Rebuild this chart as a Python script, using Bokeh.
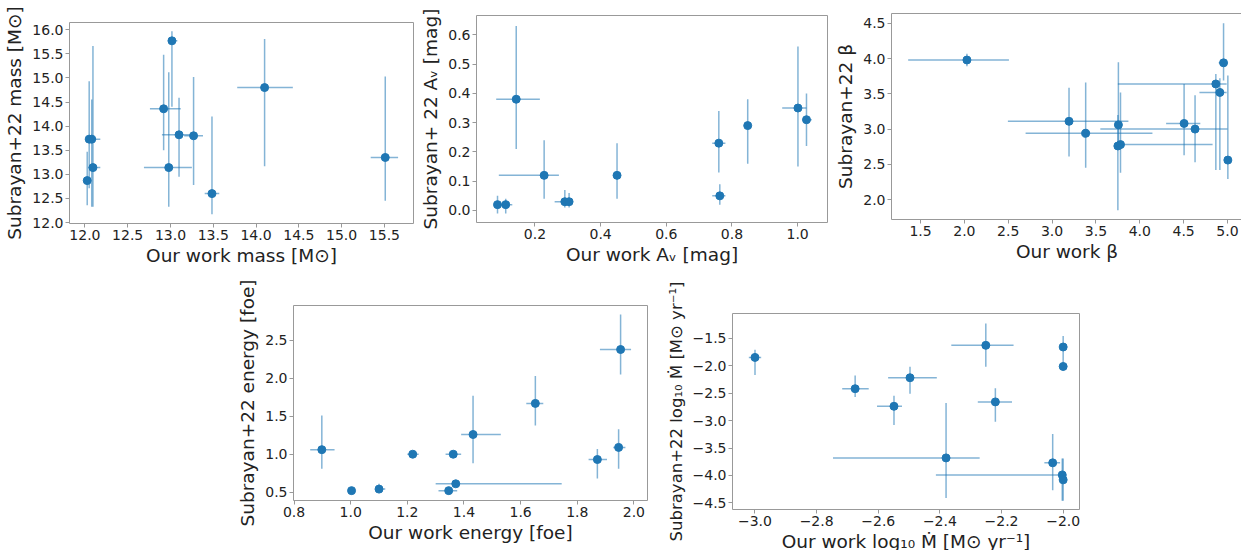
from bokeh.plotting import figure
from bokeh.layouts import column, row
from bokeh.models import ColumnDataSource, FixedTicker, Spacer, Range1d
from bokeh.embed import file_html
from bokeh.resources import INLINE

# --- progenitor mass [Msun] ---
mass_ours = [12.027, 12.05, 12.08, 12.094, 12.92, 12.98, 13.017, 13.10, 13.27, 13.485, 14.10, 15.51]
mass_ours_lo = [12.027, 12.05, 12.04, 12.04, 12.76, 12.69, 12.98, 12.90, 13.16, 13.40, 13.78, 15.34]
mass_ours_hi = [12.027, 12.05, 12.18, 12.18, 13.12, 13.25, 13.08, 13.26, 13.38, 13.57, 14.43, 15.66]
mass_sub = [12.87, 13.73, 13.73, 13.14, 14.36, 13.14, 15.77, 13.82, 13.80, 12.60, 14.80, 13.35]
mass_sub_lo = [12.36, 12.71, 12.33, 12.33, 13.50, 12.33, 14.40, 12.95, 12.78, 12.17, 13.17, 12.45]
mass_sub_hi = [13.47, 14.93, 14.55, 15.66, 15.48, 15.12, 15.97, 14.59, 15.02, 14.20, 15.81, 15.03]

# --- extinction A_V [mag] ---
av_ours = [0.086, 0.111, 0.143, 0.228, 0.291, 0.304, 0.45, 0.760, 0.763, 0.848, 1.001, 1.027]
av_ours_lo = [0.086, 0.093, 0.082, 0.090, 0.26, 0.304, 0.44, 0.74, 0.74, 0.848, 0.953, 1.015]
av_ours_hi = [0.086, 0.131, 0.215, 0.273, 0.31, 0.304, 0.46, 0.78, 0.78, 0.848, 1.027, 1.043]
av_sub = [0.02, 0.02, 0.38, 0.12, 0.03, 0.03, 0.12, 0.23, 0.05, 0.29, 0.35, 0.31]
av_sub_lo = [-0.01, -0.01, 0.21, 0.04, 0.01, 0.01, 0.04, 0.13, 0.02, 0.16, 0.15, 0.22]
av_sub_hi = [0.05, 0.04, 0.63, 0.24, 0.07, 0.06, 0.23, 0.34, 0.09, 0.38, 0.56, 0.40]

# --- wind acceleration beta ---
beta_ours = [2.029, 3.193, 3.383, 3.756, 3.75, 3.78, 4.505, 4.63, 4.867, 4.913, 4.955, 5.004]
beta_ours_lo = [1.359, 2.496, 2.698, 3.756, 3.75, 3.78, 4.30, 3.55, 3.75, 4.68, 4.90, 5.004]
beta_ours_hi = [2.508, 3.870, 4.144, 3.756, 3.75, 4.83, 4.69, 5.00, 4.99, 4.99, 5.00, 5.004]
beta_sub = [3.98, 3.11, 2.94, 3.06, 2.76, 2.78, 3.08, 3.00, 3.64, 3.52, 3.94, 2.56]
beta_sub_lo = [3.89, 2.61, 2.45, 2.75, 1.85, 2.38, 2.63, 2.53, 2.42, 2.42, 3.69, 2.29]
beta_sub_hi = [4.07, 3.585, 3.66, 3.95, 3.20, 3.52, 3.64, 3.48, 3.78, 3.72, 4.50, 3.76]

# --- explosion energy [foe] ---
en_ours = [0.898, 1.003, 1.10, 1.219, 1.362, 1.346, 1.371, 1.432, 1.652, 1.871, 1.946, 1.953]
en_ours_lo = [0.857, 1.003, 1.087, 1.20, 1.335, 1.31, 1.30, 1.39, 1.62, 1.84, 1.927, 1.88]
en_ours_hi = [0.943, 1.003, 1.122, 1.24, 1.39, 1.376, 1.745, 1.53, 1.68, 1.905, 1.97, 1.99]
en_sub = [1.06, 0.52, 0.54, 1.0, 1.0, 0.52, 0.61, 1.26, 1.67, 0.93, 1.09, 2.38]
en_sub_lo = [0.81, 0.52, 0.50, 0.97, 0.98, 0.50, 0.57, 0.88, 1.38, 0.68, 0.81, 2.05]
en_sub_hi = [1.51, 0.52, 0.61, 1.03, 1.02, 0.54, 0.65, 1.77, 2.03, 1.07, 1.33, 2.84]

# --- mass-loss rate log10 Mdot [Msun/yr] ---
mdot_ours = [-3.00, -2.675, -2.549, -2.497, -2.380, -2.251, -2.220, -2.0, -2.0, -2.034, -2.003, -2.0]
mdot_ours_lo = [-3.02, -2.717, -2.604, -2.568, -2.747, -2.363, -2.277, -2.0, -2.0, -2.061, -2.413, -2.0]
mdot_ours_hi = [-2.98, -2.631, -2.523, -2.41, -2.271, -2.161, -2.166, -2.0, -2.0, -2.01, -2.0, -2.0]
mdot_sub = [-1.85, -2.42, -2.74, -2.22, -3.68, -1.63, -2.66, -1.66, -2.015, -3.77, -3.99, -4.08]
mdot_sub_lo = [-2.17, -2.57, -3.08, -2.51, -4.41, -2.02, -3.02, -1.91, -2.09, -4.27, -4.46, -4.46]
mdot_sub_hi = [-1.71, -2.18, -2.55, -2.02, -2.68, -1.23, -2.41, -1.46, -1.91, -3.245, -3.69, -3.69]

mass_xticks = [12.0, 12.5, 13.0, 13.5, 14.0, 14.5, 15.0, 15.5]
mass_yticks = [12.0, 12.5, 13.0, 13.5, 14.0, 14.5, 15.0, 15.5, 16.0]
av_xticks = [0.2, 0.4, 0.6, 0.8, 1.0]
av_yticks = [0.0, 0.1, 0.2, 0.3, 0.4, 0.5, 0.6]
beta_xticks = [1.5, 2.0, 2.5, 3.0, 3.5, 4.0, 4.5, 5.0]
beta_yticks = [2.0, 2.5, 3.0, 3.5, 4.0, 4.5]
en_xticks = [0.8, 1.0, 1.2, 1.4, 1.6, 1.8, 2.0]
en_yticks = [0.5, 1.0, 1.5, 2.0, 2.5]
mdot_xticks = [-3.0, -2.8, -2.6, -2.4, -2.2, -2.0]
mdot_yticks = [-4.5, -4.0, -3.5, -3.0, -2.5, -2.0, -1.5]

BLUE = "#1f77b4"
FONT = "DejaVu Sans"
EDGE = "#999999"


def fmt(v):
    s = "%.1f" % v
    return s.replace("-", "\u2212")


def panel(x, xlo, xhi, y, ylo, yhi, xr, yr, xticks, yticks, xlabel, ylabel,
          left, top, right, bottom, fw, fh):
    p = figure(frame_width=fw, frame_height=fh, x_range=Range1d(*xr), y_range=Range1d(*yr),
               output_backend="svg", toolbar_location=None,
               min_border_left=left, min_border_top=top,
               min_border_right=right, min_border_bottom=bottom)
    p.xgrid.visible = False
    p.ygrid.visible = False
    p.outline_line_color = EDGE
    p.outline_line_width = 1
    src = ColumnDataSource(dict(x=x, xlo=xlo, xhi=xhi, y=y, ylo=ylo, yhi=yhi))
    p.segment(x0="xlo", y0="y", x1="xhi", y1="y", source=src,
              line_color=BLUE, line_alpha=0.55, line_width=1.5)
    p.segment(x0="x", y0="ylo", x1="x", y1="yhi", source=src,
              line_color=BLUE, line_alpha=0.55, line_width=1.5)
    p.scatter(x="x", y="y", source=src, size=8, fill_color=BLUE, line_color=BLUE)
    p.xaxis.ticker = FixedTicker(ticks=xticks)
    p.yaxis.ticker = FixedTicker(ticks=yticks)
    p.xaxis.major_label_overrides = {t: fmt(t) for t in xticks}
    p.yaxis.major_label_overrides = {t: fmt(t) for t in yticks}
    p.xaxis.axis_label = xlabel
    p.yaxis.axis_label = ylabel
    for ax in (p.xaxis[0], p.yaxis[0]):
        ax.axis_line_alpha = 0
        ax.major_tick_line_color = EDGE
        ax.major_tick_out = 4
        ax.major_tick_in = 0
        ax.minor_tick_out = 0
        ax.minor_tick_in = 0
        ax.major_label_text_font = FONT
        ax.major_label_text_font_size = "14px"
        ax.major_label_text_color = "#222222"
        ax.major_label_standoff = 2
        ax.axis_label_text_font = FONT
        ax.axis_label_text_font_size = "18.5px"
        ax.axis_label_text_font_style = "normal"
        ax.axis_label_text_color = "#222222"
        ax.axis_label_standoff = 2
    p.yaxis.axis_label_standoff = 4
    return p


p1 = panel(mass_ours, mass_ours_lo, mass_ours_hi, mass_sub, mass_sub_lo, mass_sub_hi,
           (11.82, 15.84), (11.98, 16.15), mass_xticks, mass_yticks,
           "Our work mass [M\u2299]", "Subrayan+22 mass [M\u2299]",
           69, 22, 4, 52, 344, 201)
p2 = panel(av_ours, av_ours_lo, av_ours_hi, av_sub, av_sub_lo, av_sub_hi,
           (0.022, 1.091), (-0.041, 0.666), av_xticks, av_yticks,
           "Our work A\u1d65 [mag]", "Subrayan+ 22 A\u1d65 [mag]",
           58, 15, 5, 53, 351, 207)
p3 = panel(beta_ours, beta_ours_lo, beta_ours_hi, beta_sub, beta_sub_lo, beta_sub_hi,
           (1.169, 5.171), (1.717, 4.64), beta_xticks, beta_yticks,
           "Our work \u03b2", "Subrayan+22 \u03b2",
           58, 13, 1, 56, 351, 206)
p4 = panel(en_ours, en_ours_lo, en_ours_hi, en_sub, en_sub_lo, en_sub_hi,
           (0.798, 2.048), (0.39, 2.96), en_xticks, en_yticks,
           "Our work energy [foe]", "Subrayan+22 energy [foe]",
           63, 30, 15, 45, 354, 195)
p5 = panel(mdot_ours, mdot_ours_lo, mdot_ours_hi, mdot_sub, mdot_sub_lo, mdot_sub_hi,
           (-3.073, -1.947), (-4.62, -1.05), mdot_xticks, mdot_yticks,
           "Our work log\u2081\u2080 \u1e40 [M\u2299 yr\u207b\u00b9]",
           "Subrayan+22 log\u2081\u2080 \u1e40 [M\u2299 yr\u207b\u00b9]",
           70, 38, 10, 41, 347, 196)
# the long mass-loss label is set a little smaller so it stays within the canvas
p5.yaxis.axis_label_text_font_size = "16.5px"

# each panel sits in its own column so that its frame keeps its own offsets
top_row = row(column(p1), column(p2), column(p3))
bottom_row = row(Spacer(width=230, height=10), column(p4), column(p5))
layout = column(top_row, bottom_row)

open("out.html", "w").write(file_html(layout, INLINE))
